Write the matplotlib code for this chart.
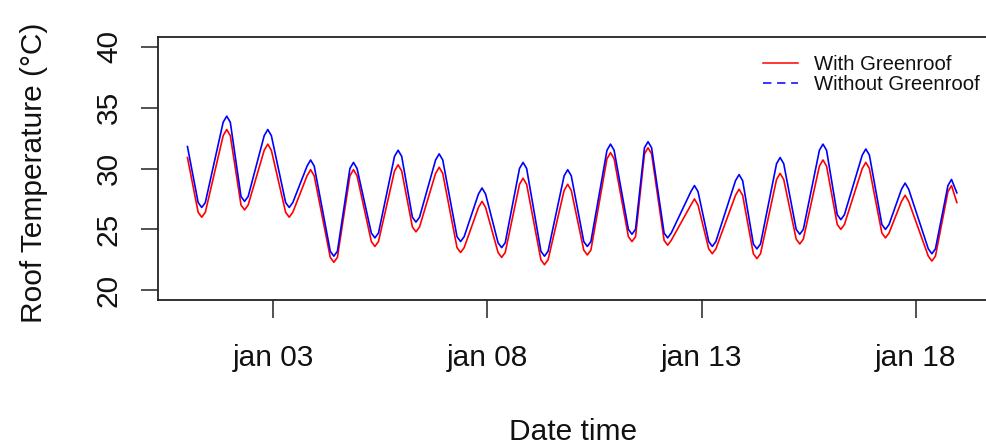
import matplotlib
matplotlib.use("Agg")
import matplotlib.pyplot as plt
from matplotlib.lines import Line2D

plt.rcParams['font.family'] = ['Liberation Sans', 'DejaVu Sans']

# hours since jan 01 00:00 (points read around each daily trough / peak)
hours = [0,
         6, 8, 10, 20, 22, 24, 30, 32, 34, 43, 45, 47, 55, 57, 59, 67, 69, 71,
         80, 82, 84, 91, 93, 95, 103, 105, 107, 116, 118, 120, 126, 128, 130,
         139, 141, 143, 151, 153, 155, 163, 165, 167, 174, 176, 178, 186, 188, 190,
         198, 200, 202, 211, 213, 215, 222, 224, 226, 235, 237, 239, 247, 249, 251,
         256, 258, 260, 267, 269, 271, 282, 284, 286, 292, 294, 296, 307, 309, 311,
         317, 319, 321, 330, 332, 334, 341, 343, 345, 354, 356, 358, 364, 366, 368,
         378, 380, 382, 389, 391, 393, 400, 402, 404, 415, 417, 419, 426, 428,
         431]

with_greenroof = [30.9,
                  26.4, 26.0, 26.4, 32.7, 33.2, 32.7, 27.0, 26.6, 27.0,
                  31.5, 32.0, 31.5, 26.4, 26.0, 26.4, 29.4, 29.9, 29.4,
                  22.7, 22.3, 22.7, 29.4, 29.9, 29.4, 24.0, 23.6, 24.0,
                  29.8, 30.3, 29.8, 25.2, 24.8, 25.2, 29.6, 30.1, 29.6,
                  23.5, 23.1, 23.5, 26.8, 27.3, 26.8, 23.1, 22.7, 23.1,
                  28.7, 29.2, 28.7, 22.5, 22.1, 22.5, 28.2, 28.7, 28.2,
                  23.3, 22.9, 23.3, 30.8, 31.3, 30.8, 24.4, 24.0, 24.4,
                  31.2, 31.7, 31.2, 24.1, 23.7, 24.1, 27.0, 27.5, 27.0,
                  23.4, 23.0, 23.4, 27.8, 28.3, 27.8, 23.0, 22.6, 23.0,
                  29.1, 29.6, 29.1, 24.2, 23.8, 24.2, 30.2, 30.7, 30.2,
                  25.4, 25.0, 25.4, 30.0, 30.5, 30.0, 24.7, 24.3, 24.7,
                  27.3, 27.8, 27.3, 22.8, 22.4, 22.8, 28.1, 28.6,
                  27.2]

without_greenroof = [31.8,
                     27.2, 26.8, 27.2, 33.8, 34.3, 33.8, 27.7, 27.3, 27.7,
                     32.7, 33.2, 32.7, 27.2, 26.8, 27.2, 30.2, 30.7, 30.2,
                     23.2, 22.8, 23.2, 30.0, 30.5, 30.0, 24.7, 24.3, 24.7,
                     31.0, 31.5, 31.0, 26.0, 25.6, 26.0, 30.7, 31.2, 30.7,
                     24.4, 24.0, 24.4, 27.9, 28.4, 27.9, 23.9, 23.5, 23.9,
                     30.0, 30.5, 30.0, 23.2, 22.8, 23.2, 29.4, 29.9, 29.4,
                     24.0, 23.6, 24.0, 31.5, 32.0, 31.5, 25.0, 24.6, 25.0,
                     31.7, 32.2, 31.7, 24.7, 24.3, 24.7, 28.1, 28.6, 28.1,
                     24.0, 23.6, 24.0, 29.0, 29.5, 29.0, 23.8, 23.4, 23.8,
                     30.4, 30.9, 30.4, 25.0, 24.6, 25.0, 31.5, 32.0, 31.5,
                     26.2, 25.8, 26.2, 31.1, 31.6, 31.1, 25.4, 25.0, 25.4,
                     28.3, 28.8, 28.3, 23.4, 23.0, 23.4, 28.6, 29.1,
                     28.0]

tick_days = [3, 8, 13, 18]
tick_labels = ["jan 03", "jan 08", "jan 13", "jan 18"]
y_ticks = [20, 25, 30, 35, 40]
series_labels = ["With Greenroof", "Without Greenroof"]

TXT = '#111111'
W, H = 987, 445
fig = plt.figure(figsize=(W / 100, H / 100), dpi=100)
left, right, top, bottom = 158, 989, 37, 300
ax = fig.add_axes([left / W, 1 - bottom / H, (right - left) / W, (bottom - top) / H])

ax.plot(hours, with_greenroof, color='#FF0000', lw=1.2)
ax.plot(hours, without_greenroof, color='#0000FF', lw=1.2)

ax.set_xlim(-16.5, 449)
ax.set_ylim(19.2, 40.8)

ax.set_xticks([(d - 1) * 24 for d in tick_days])
ax.set_xticklabels(tick_labels)
ax.set_yticks(y_ticks)
ax.set_yticklabels([str(v) for v in y_ticks])

for s in ax.spines.values():
    s.set_color('#222222')
    s.set_linewidth(1.3)

ax.tick_params(axis='x', length=13, width=1.1, color='#222222', pad=19, labelsize=21.5, labelcolor=TXT)
ax.tick_params(axis='y', length=12.2, width=1.1, color='#222222', pad=13, labelsize=21.5, labelcolor=TXT)
for lab in ax.get_yticklabels():
    lab.set_rotation(90)
    lab.set_va('center')

fig.text(573.5 / W, 1 - 440 / H, "Date time", ha='center', va='baseline', fontsize=21.5, color=TXT)
fig.text(34 / W, 1 - 172.5 / H, "Roof Temperature (°C)", ha='center', va='center',
         rotation=90, fontsize=21.5, color=TXT)

handles = [Line2D([], [], color='#FF0000', lw=1.1),
           Line2D([], [], color='#0000FF', lw=1.1, linestyle=(0, (5.5, 3.7)))]
ax.legend(handles, series_labels, loc='upper left', bbox_to_anchor=(0.7277, 0.930),
          frameon=False, borderpad=0, borderaxespad=0, handlelength=1.75,
          handletextpad=0.78, labelspacing=0.05, fontsize=14.6, labelcolor=TXT)

fig.savefig("out.png", dpi=100)
